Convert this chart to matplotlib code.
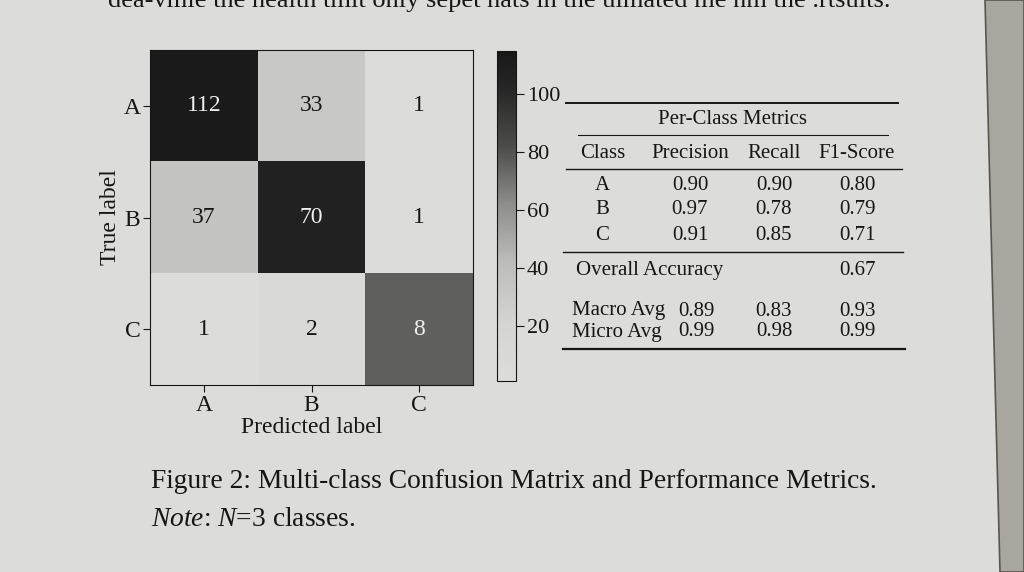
import numpy as np
import matplotlib
matplotlib.use('Agg')
from matplotlib import pyplot as plt
from matplotlib.colors import LinearSegmentedColormap
from matplotlib.lines import Line2D
from matplotlib.patches import Polygon

# Confusion matrix counts (annotations) and printed cell shades
classes = ['A', 'B', 'C']
counts = [[112, 33, 1],
          [37, 70, 1],
          [1, 2, 8]]
shades = [[112, 31, 1],
          [35, 106, 1],
          [1, 8, 76]]
cbar_ticks = [20, 40, 60, 80, 100]

# Per-class metrics table
metric_names = ['Precision', 'Recall', 'F1-Score']
precision = [0.90, 0.97, 0.91]
recall = [0.90, 0.78, 0.85]
f1_score = [0.80, 0.79, 0.71]
overall_accuracy = 0.67
avg_names = ['Macro Avg', 'Micro Avg']
avg_precision = [0.89, 0.99]
avg_recall = [0.83, 0.98]
avg_f1 = [0.93, 0.99]

caption = 'Figure 2: Multi-class Confusion Matrix and Performance Metrics.'
note = r'$\mathit{Note}$: $\mathit{N}$=3 classes.'
top_line = 'dea-vmie the health tmit only sepet hats in the ulmated me nm the .rtsults.'

plt.rcParams['font.family'] = ['Liberation Serif', 'DejaVu Serif']
plt.rcParams['mathtext.fontset'] = 'custom'
plt.rcParams['mathtext.rm'] = 'Liberation Serif'
plt.rcParams['mathtext.it'] = 'Liberation Serif:italic'
paper = '#dcdcda'
ink = '#161616'

fig = plt.figure(figsize=(10.24, 5.72), dpi=100, facecolor=paper)
W, H = 1024.0, 572.0

def P(x, y):
    # pixel position -> figure fraction
    return x / W, 1 - y / H

def txt(x, y, s, size=15, ha='left', va='center', **kw):
    fig.text(*P(x, y), s, fontsize=size, ha=ha, va=va, color=ink, **kw)

def hline(x0, x1, y, lw=1.0):
    fig.add_artist(Line2D([x0 / W, x1 / W], [1 - y / H, 1 - y / H],
                          transform=fig.transFigure, color=ink, lw=lw))

# Page edge on the right
fig.add_artist(Polygon([P(985, 0), P(1024, 0), P(1024, 572), P(1000, 572)],
                       closed=True, transform=fig.transFigure,
                       facecolor='#a9a59f', edgecolor='#5a554f', lw=1.2))

# Partly cut line of body text above the figure
txt(108, 7, top_line, size=19, va='baseline')

# Confusion matrix
cmap = LinearSegmentedColormap.from_list(
    'print', [(0.0, '#dcdcda'), (0.18, '#d4d4d2'), (0.36, '#bcbcba'),
              (0.54, '#8c8c8a'), (0.71, '#4c4c4a'), (0.89, '#262626'),
              (1.0, '#181818')])
ax = fig.add_axes([150 / W, 1 - 385 / H, 323 / W, 335 / H])
im = ax.imshow(np.array(shades), cmap=cmap, vmin=1, vmax=115, aspect='auto')
for i in range(len(classes)):
    for j in range(len(classes)):
        col = '#f0f0f0' if shades[i][j] > 60 else ink
        ax.text(j, i, str(counts[i][j]), ha='center', va='center',
                fontsize=17, color=col)
ax.set_xticks(range(len(classes)))
ax.set_yticks(range(len(classes)))
ax.set_xticklabels(classes, fontsize=17, color=ink)
ax.set_yticklabels(classes, fontsize=17, color=ink)
ax.tick_params(length=5, color=ink, pad=2)
ax.set_xlabel('Predicted label', fontsize=17, color=ink, labelpad=1)
ax.set_ylabel('True label', fontsize=17, color=ink, labelpad=2)
for s in ax.spines.values():
    s.set_color(ink)

cax = fig.add_axes([497 / W, 1 - 381 / H, 19 / W, 330 / H])
cb = fig.colorbar(im, cax=cax, ticks=cbar_ticks)
cb.ax.tick_params(labelsize=16, colors=ink, length=6, pad=2)
cb.outline.set_edgecolor(ink)

# Metrics table
hline(566, 898, 103, lw=1.4)
txt(733, 119, 'Per-Class Metrics', ha='center')
hline(578, 888, 135, lw=0.8)
col_x = [690, 774, 857]
txt(603, 153, 'Class', ha='center')
for x, name in zip(col_x, metric_names):
    txt(x, 153, name, ha='center')
hline(566, 902, 169, lw=1.0)
for k, c in enumerate(classes):
    y = 185 + 25 * k
    txt(602, y, c, ha='center')
    txt(col_x[0], y, '%.2f' % precision[k], ha='center')
    txt(col_x[1], y, '%.2f' % recall[k], ha='center')
    txt(col_x[2], y, '%.2f' % f1_score[k], ha='center')
hline(563, 903, 252, lw=1.0)
txt(576, 270, 'Overall Accuracy')
txt(col_x[2], 270, '%.2f' % overall_accuracy, ha='center')
for k, name in enumerate(avg_names):
    y = 311 + 21 * k
    txt(572, y, name)
    txt(696, y, '%.2f' % avg_precision[k], ha='center')
    txt(col_x[1], y, '%.2f' % avg_recall[k], ha='center')
    txt(col_x[2], y, '%.2f' % avg_f1[k], ha='center')
hline(563, 905, 349, lw=1.6)

# Caption
txt(151, 481, caption, size=19.8)
txt(151, 519, note, size=19.8)

plt.savefig('out.png', dpi=100, facecolor=paper)
